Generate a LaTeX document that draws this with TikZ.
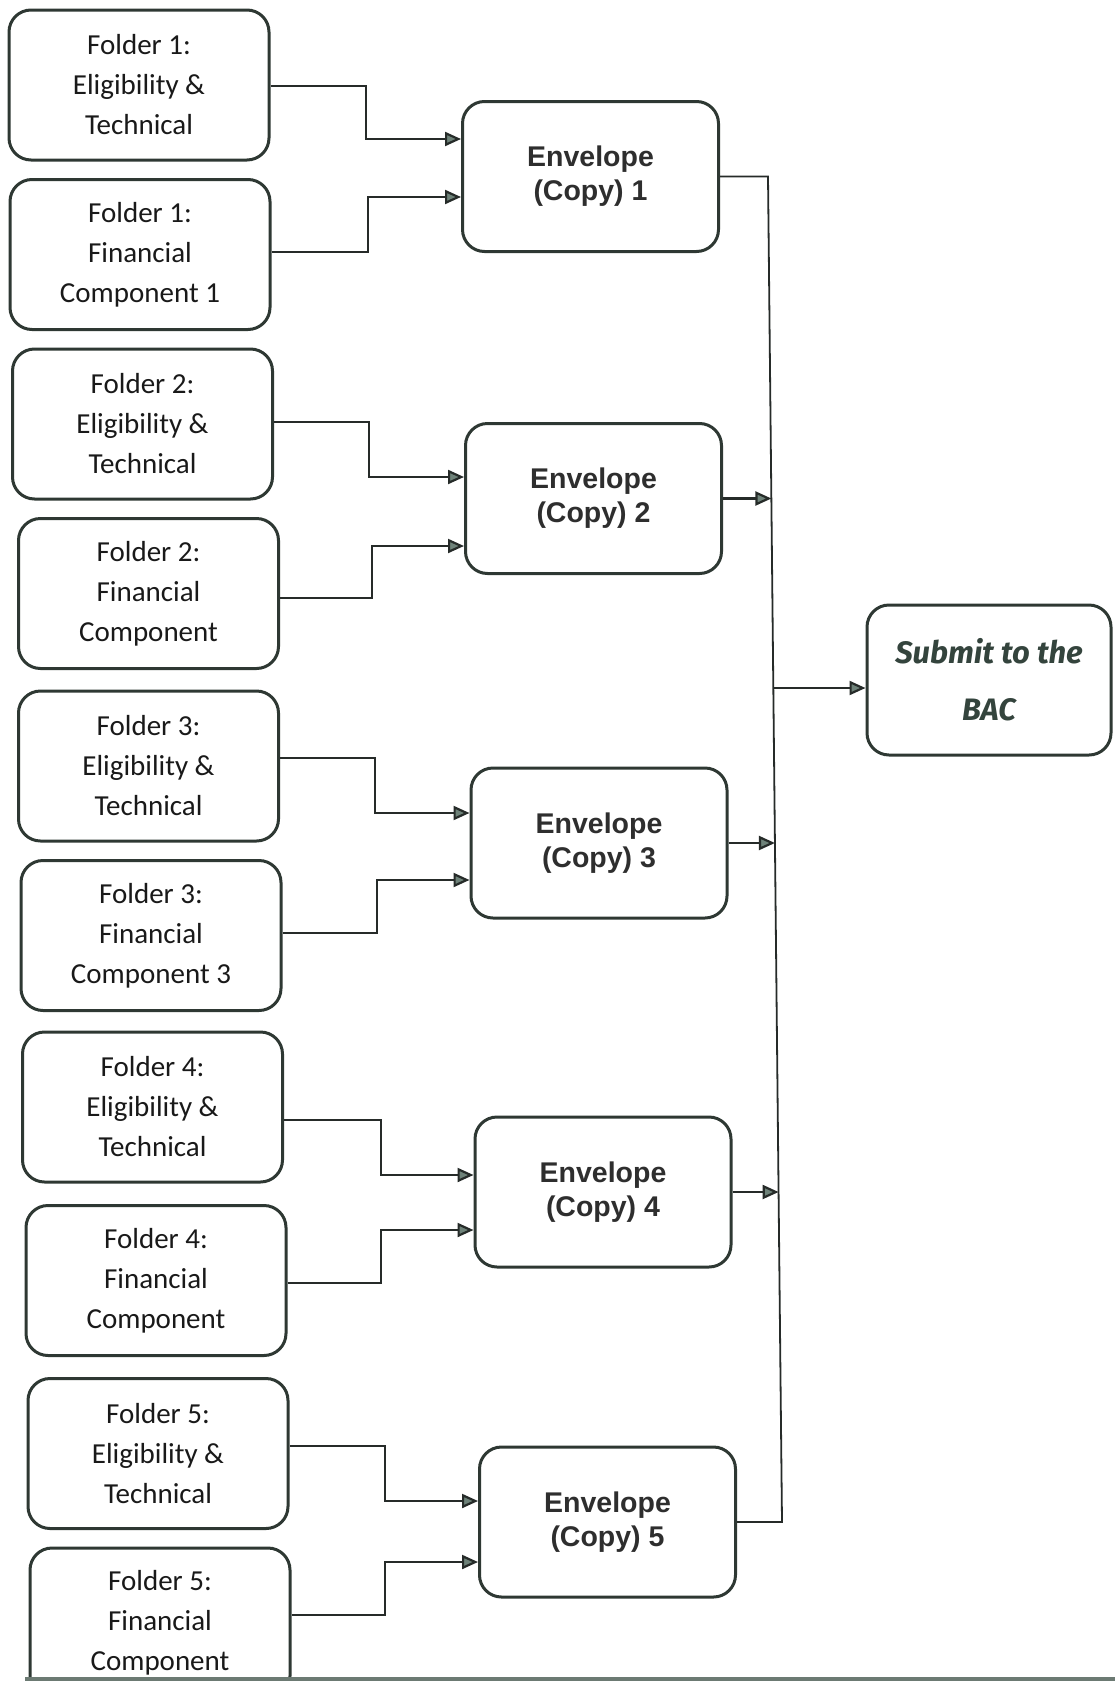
\documentclass[tikz,border=0pt]{standalone}
\usepackage{fontspec}
\setmainfont{Carlito}
\newfontfamily\envfont{Liberation Sans}
\newfontfamily\subfont{Fira Sans}
\usetikzlibrary{arrows.meta}
\definecolor{boxline}{HTML}{2E3833}
\definecolor{arrfill}{HTML}{6E8279}
\definecolor{linecol}{HTML}{262B29}
\definecolor{subtext}{HTML}{34443D}
\definecolor{baseln}{HTML}{6C7A73}
\begin{document}
\begin{tikzpicture}[x=1pt,y=-1pt,
  folder/.style={draw=boxline, line width=3pt, rounded corners=22pt, minimum width=260pt, minimum height=150pt, align=center, font=\fontsize{29}{40}\selectfont, text=black!90, inner sep=0pt},
  envbox/.style={draw=boxline, line width=3pt, rounded corners=22pt, minimum width=256pt, minimum height=150pt, align=center, font=\envfont\bfseries\fontsize{28.5}{34}\selectfont, text=black!82, inner sep=0pt},
  subbox/.style={draw=boxline, line width=3pt, rounded corners=22pt, minimum width=244pt, minimum height=150pt, align=center, font=\subfont\bfseries\itshape\fontsize{31}{57}\selectfont, text=subtext, inner sep=0pt},
  conn/.style={draw=linecol, line width=2.2pt, -{Triangle[length=16pt,width=14pt,fill=arrfill]}},
  bus/.style={draw=linecol, line width=1.8pt}]
\clip (0,0) rectangle (1115,1681);
% folders
\node[folder] (f1e) at (139,85) {Folder 1:\\Eligibility \&\\Technical};
\node[folder] (f1f) at (140,254.5) {Folder 1:\\Financial\\Component 1};
\node[folder] (f2e) at (142.5,424) {Folder 2:\\Eligibility \&\\Technical};
\node[folder] (f2f) at (148.5,593.5) {Folder 2:\\Financial\\Component};
\node[folder] (f3e) at (148.5,766) {Folder 3:\\Eligibility \&\\Technical};
\node[folder] (f3f) at (151,935.5) {Folder 3:\\Financial\\Component 3};
\node[folder] (f4e) at (152.5,1107) {Folder 4:\\Eligibility \&\\Technical};
\node[folder] (f4f) at (156,1280.5) {Folder 4:\\Financial\\Component};
\node[folder] (f5e) at (158,1453.5) {Folder 5:\\Eligibility \&\\Technical};
\node[folder] (f5f) at (160,1623) {Folder 5:\\Financial\\Component};
% envelopes
\node[envbox] (e1) at (590.5,176.5) {Envelope\\(Copy) 1};
\node[envbox] (e2) at (593.5,498.5) {Envelope\\(Copy) 2};
\node[envbox] (e3) at (599,843) {Envelope\\(Copy) 3};
\node[envbox] (e4) at (603,1192) {Envelope\\(Copy) 4};
\node[envbox] (e5) at (607.5,1522) {Envelope\\(Copy) 5};
% submit
\node[subbox] (sub) at (989,680) {Submit to the\\BAC};
% folder -> envelope
\draw[conn] (f1e.east |- 0,86) -| (366,139) -- (e1.west |- 0,139);
\draw[conn] (f1f.east |- 0,252) -| (368,197) -- (e1.west |- 0,197);
\draw[conn] (f2e.east |- 0,422) -| (369,477) -- (e2.west |- 0,477);
\draw[conn] (f2f.east |- 0,598) -| (372,546) -- (e2.west |- 0,546);
\draw[conn] (f3e.east |- 0,758) -| (375,813) -- (e3.west |- 0,813);
\draw[conn] (f3f.east |- 0,933) -| (377,880) -- (e3.west |- 0,880);
\draw[conn] (f4e.east |- 0,1120) -| (381,1175) -- (e4.west |- 0,1175);
\draw[conn] (f4f.east |- 0,1283) -| (381,1230) -- (e4.west |- 0,1230);
\draw[conn] (f5e.east |- 0,1446) -| (385,1501) -- (e5.west |- 0,1501);
\draw[conn] (f5f.east |- 0,1615) -| (385,1562) -- (e5.west |- 0,1562);
% bus
\coordinate (bt) at (768,176.5);
\coordinate (bb) at (782,1522);
\coordinate (bs) at (773.3,688);
\draw[bus] (e1.east) -- (bt) -- (bb) -- (e5.east);
\draw[conn] (e2.east) -- (e2.east -| 771.4,0);
\draw[conn] (e3.east) -- (e3.east -| 774.9,0);
\draw[conn] (e4.east) -- (e4.east -| 778.6,0);
\draw[conn] (bs) -- (sub.west |- bs);
% bottom rule
\draw[baseln, line width=4.5pt] (25,1679) -- (1115,1679);
\end{tikzpicture}
\end{document}
